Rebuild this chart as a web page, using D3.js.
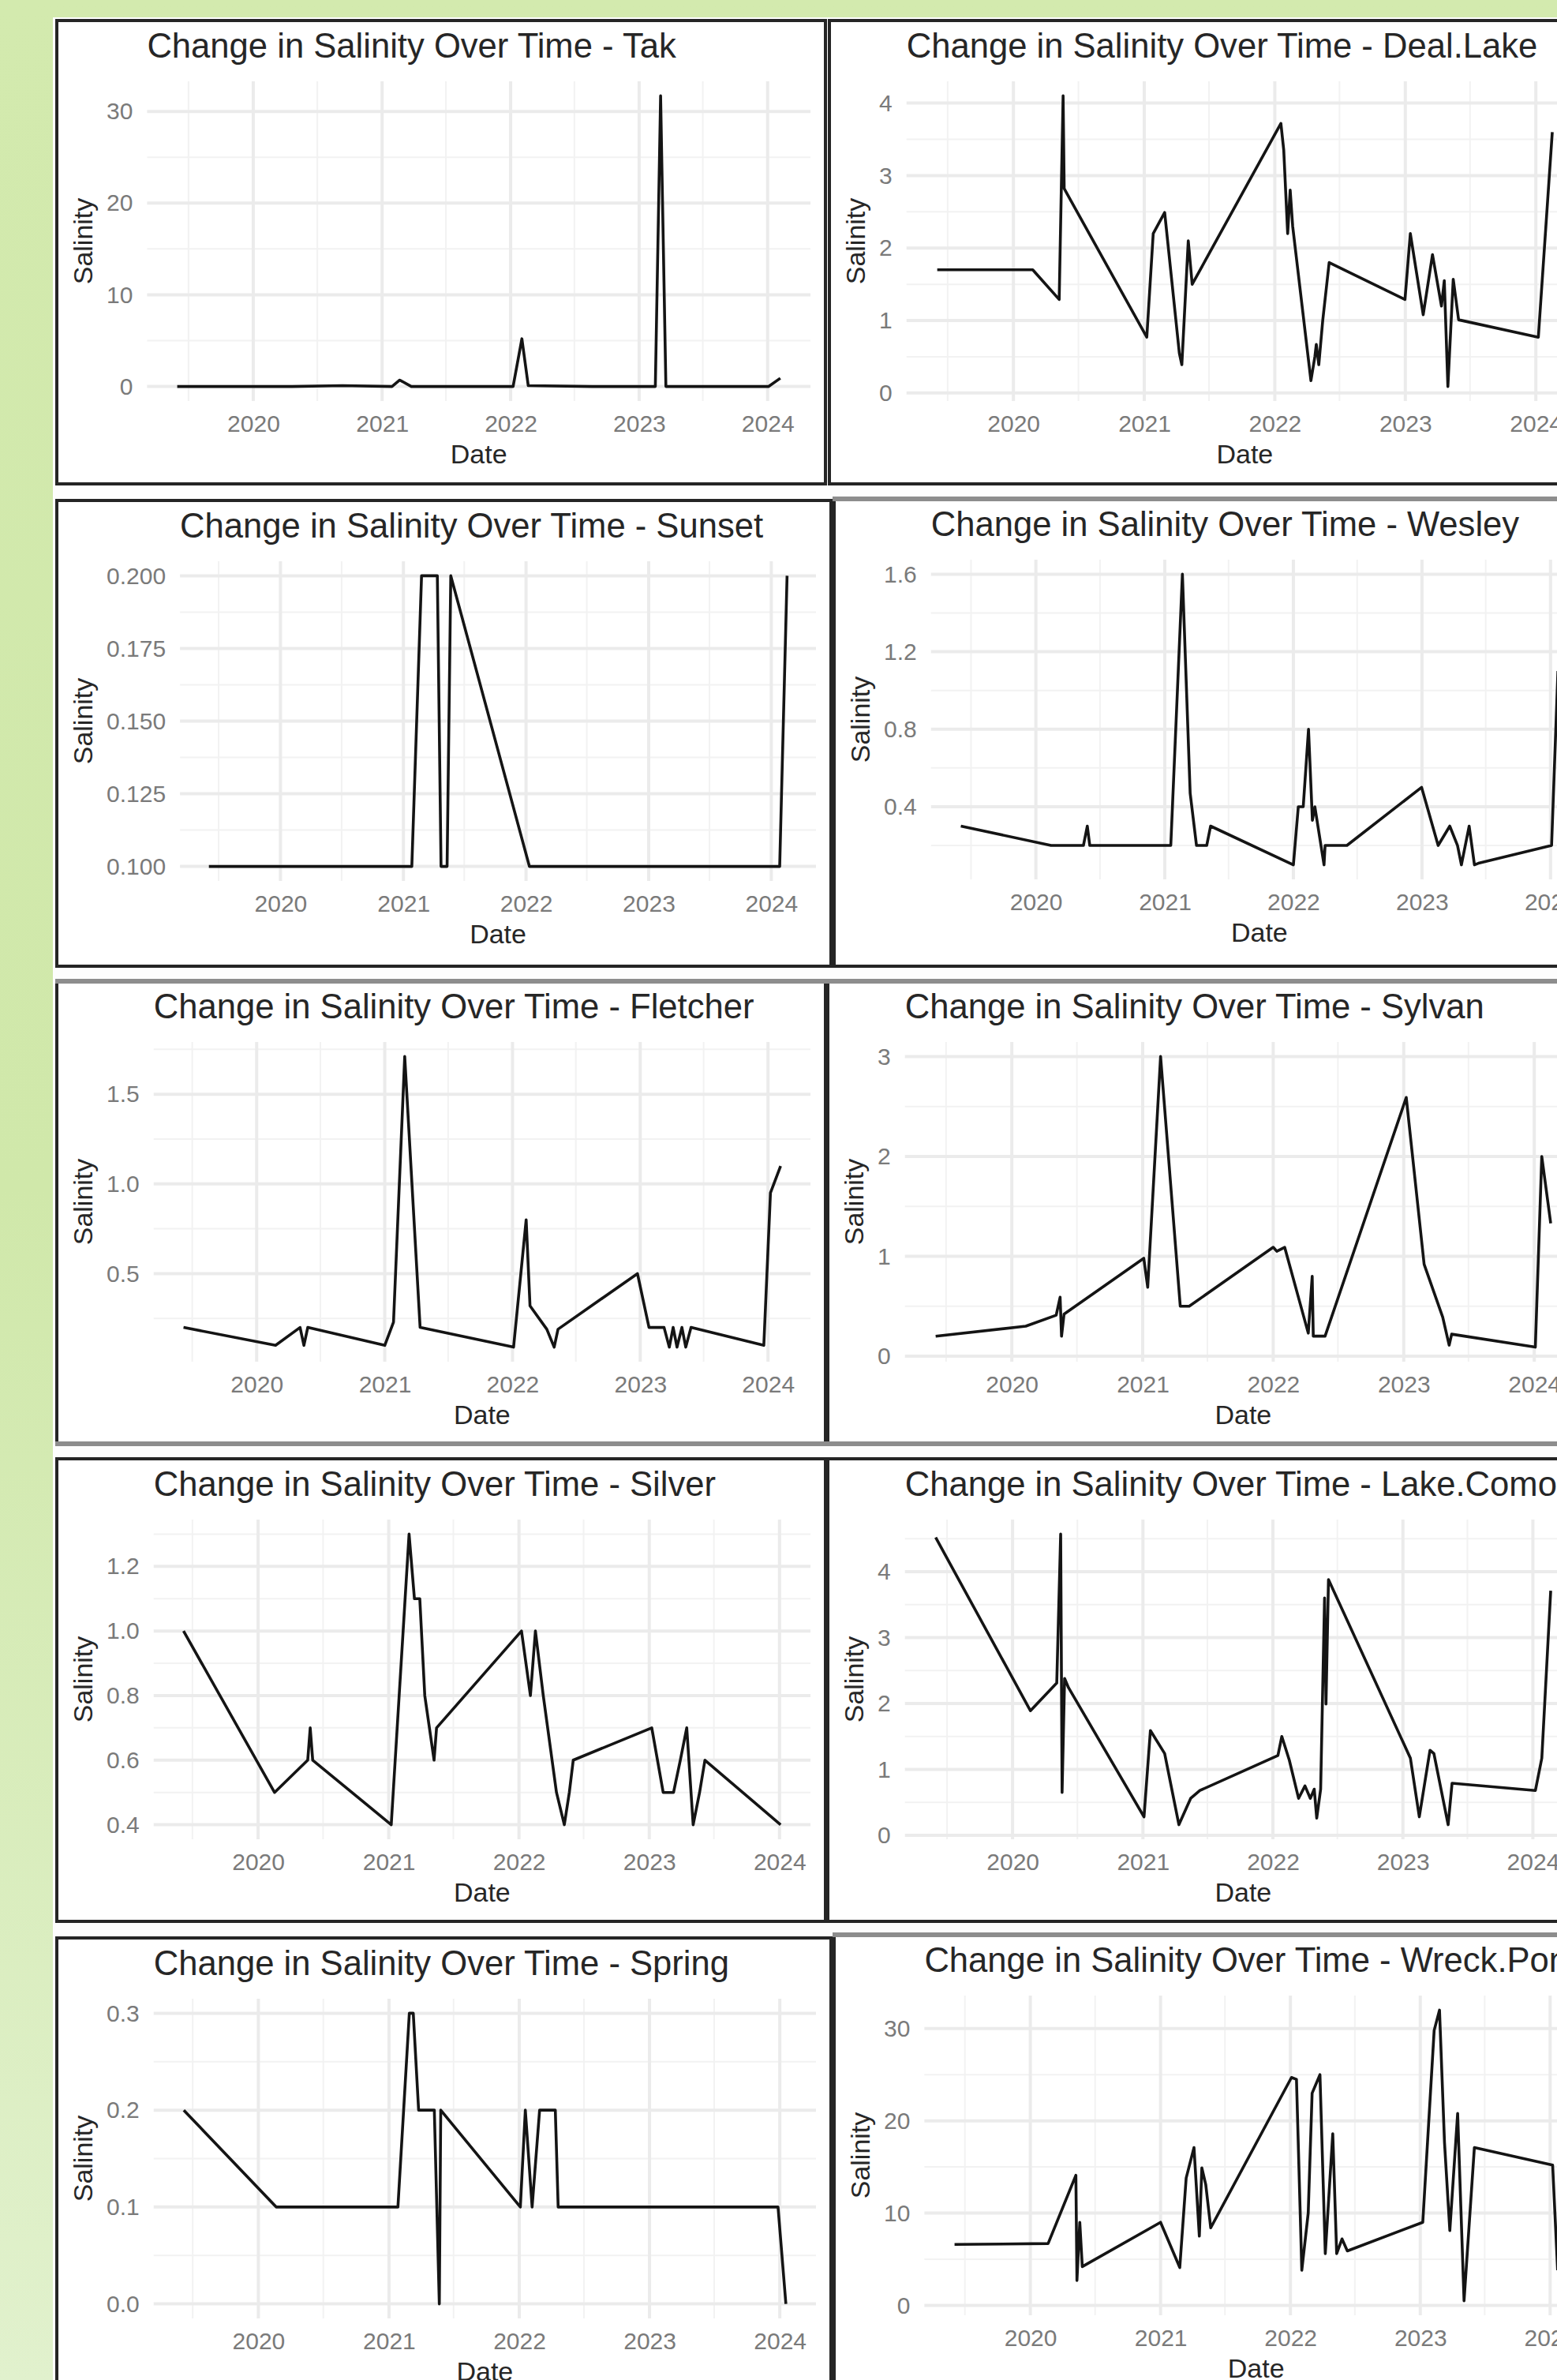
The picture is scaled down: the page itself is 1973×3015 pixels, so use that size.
<!DOCTYPE html>
<html>
<head>
<meta charset="utf-8">
<script src="https://cdnjs.cloudflare.com/ajax/libs/d3/7.8.5/d3.min.js"></script>
<style>
  html, body { margin: 0; padding: 0; }
  body { width: 1973px; height: 3015px; overflow: hidden; }
  svg { display: block; font-family: "Liberation Sans", Arial, Helvetica, sans-serif; }
</style>
</head>
<body>
<div id="chart"></div>
<script>
const sites = ["Tak", "Deal.Lake", "Sunset", "Wesley", "Fletcher", "Sylvan", "Silver", "Lake.Como", "Spring", "Wreck.Pond"];

// [date, salinity] pairs
const tak = [["2019-05-30", 0], ["2019-10-15", 0], ["2020-04-20", 0], ["2020-09-10", 0.1], ["2021-01-29", 0],
  ["2021-02-20", 0.7], ["2021-03-25", 0], ["2021-09-15", 0], ["2022-01-08", 0], ["2022-02-02", 5.2],
  ["2022-02-20", 0.1], ["2022-08-20", 0], ["2023-02-16", 0], ["2023-03-03", 31.7], ["2023-03-18", 0],
  ["2023-09-01", 0], ["2024-01-04", 0], ["2024-02-06", 0.9]];

const dealLake = [["2019-06-02", 1.7], ["2020-02-24", 1.7], ["2020-05-08", 1.29], ["2020-05-19", 4.1], ["2020-05-22", 2.82],
  ["2021-01-08", 0.77], ["2021-01-26", 2.2], ["2021-02-27", 2.49], ["2021-04-09", 0.55], ["2021-04-16", 0.39],
  ["2021-05-04", 2.1], ["2021-05-15", 1.5], ["2022-01-18", 3.72], ["2022-01-26", 3.35], ["2022-02-06", 2.2],
  ["2022-02-13", 2.8], ["2022-02-20", 2.3], ["2022-04-12", 0.17], ["2022-04-23", 0.5], ["2022-04-27", 0.67],
  ["2022-05-04", 0.39], ["2022-05-15", 1.0], ["2022-06-02", 1.8], ["2022-12-31", 1.29], ["2023-01-15", 2.2],
  ["2023-02-20", 1.08], ["2023-03-18", 1.91], ["2023-04-12", 1.2], ["2023-04-20", 1.55], ["2023-04-30", 0.09],
  ["2023-05-15", 1.57], ["2023-05-30", 1.01], ["2024-01-08", 0.77], ["2024-02-16", 3.6]];

const sunset = [["2019-06-02", 0.1], ["2019-12-01", 0.1], ["2020-07-01", 0.1], ["2021-01-26", 0.1], ["2021-02-24", 0.2],
  ["2021-04-12", 0.2], ["2021-04-23", 0.1], ["2021-05-11", 0.1], ["2021-05-22", 0.2], ["2022-01-11", 0.1],
  ["2022-09-01", 0.1], ["2023-05-01", 0.1], ["2024-01-26", 0.1], ["2024-02-17", 0.2]];

const wesley = [["2019-06-02", 0.3], ["2020-02-13", 0.2], ["2020-05-15", 0.2], ["2020-05-26", 0.3], ["2020-06-02", 0.2],
  ["2021-01-18", 0.2], ["2021-02-20", 1.6], ["2021-03-14", 0.47], ["2021-04-01", 0.2], ["2021-04-30", 0.2],
  ["2021-05-11", 0.3], ["2022-01-01", 0.1], ["2022-01-15", 0.4], ["2022-01-29", 0.4], ["2022-02-13", 0.8],
  ["2022-02-24", 0.33], ["2022-03-03", 0.4], ["2022-03-29", 0.1], ["2022-04-01", 0.2], ["2022-06-02", 0.2],
  ["2022-12-31", 0.5], ["2023-02-16", 0.2], ["2023-03-21", 0.3], ["2023-04-12", 0.2], ["2023-04-23", 0.1],
  ["2023-05-15", 0.3], ["2023-05-30", 0.1], ["2023-06-13", 0.11], ["2024-01-04", 0.2], ["2024-01-22", 1.1]];

const fletcher = [["2019-06-06", 0.2], ["2020-02-24", 0.1], ["2020-05-04", 0.2], ["2020-05-15", 0.1], ["2020-05-26", 0.2],
  ["2021-01-01", 0.1], ["2021-01-26", 0.23], ["2021-02-27", 1.71], ["2021-04-12", 0.2], ["2022-01-04", 0.09],
  ["2022-02-09", 0.8], ["2022-02-20", 0.32], ["2022-04-09", 0.19], ["2022-04-30", 0.09], ["2022-05-11", 0.19],
  ["2022-12-24", 0.5], ["2023-01-26", 0.2], ["2023-03-10", 0.2], ["2023-03-25", 0.09], ["2023-04-05", 0.2],
  ["2023-04-16", 0.09], ["2023-04-30", 0.2], ["2023-05-11", 0.09], ["2023-05-26", 0.2], ["2023-12-20", 0.1],
  ["2024-01-08", 0.95], ["2024-02-06", 1.1]];

const sylvan = [["2019-06-02", 0.2], ["2020-02-09", 0.3], ["2020-05-04", 0.41], ["2020-05-15", 0.59], ["2020-05-19", 0.2],
  ["2020-05-26", 0.42], ["2021-01-04", 0.98], ["2021-01-15", 0.69], ["2021-02-20", 3.0], ["2021-04-16", 0.5],
  ["2021-05-11", 0.5], ["2022-01-01", 1.09], ["2022-01-11", 1.05], ["2022-02-02", 1.09], ["2022-04-09", 0.23],
  ["2022-04-20", 0.8], ["2022-04-23", 0.2], ["2022-05-26", 0.2], ["2023-01-08", 2.59], ["2023-02-27", 0.92],
  ["2023-04-20", 0.39], ["2023-05-08", 0.11], ["2023-05-15", 0.22], ["2024-01-04", 0.09], ["2024-01-22", 2.0],
  ["2024-02-16", 1.33]];

const silver = [["2019-06-06", 1.0], ["2020-02-16", 0.5], ["2020-05-19", 0.6], ["2020-05-26", 0.7], ["2020-06-02", 0.6],
  ["2021-01-08", 0.4], ["2021-02-27", 1.3], ["2021-03-14", 1.1], ["2021-03-29", 1.1], ["2021-04-12", 0.8],
  ["2021-05-08", 0.6], ["2021-05-15", 0.7], ["2022-01-08", 1.0], ["2022-02-02", 0.8], ["2022-02-16", 1.0],
  ["2022-03-10", 0.8], ["2022-04-16", 0.5], ["2022-05-08", 0.4], ["2022-05-22", 0.5], ["2022-06-02", 0.6],
  ["2023-01-08", 0.7], ["2023-02-09", 0.5], ["2023-03-10", 0.5], ["2023-03-29", 0.6], ["2023-04-16", 0.7],
  ["2023-05-04", 0.4], ["2023-05-22", 0.5], ["2023-06-06", 0.6], ["2024-01-04", 0.4]];

const lakeComo = [["2019-05-30", 4.52], ["2020-02-20", 1.89], ["2020-05-04", 2.31], ["2020-05-15", 4.57], ["2020-05-19", 0.65],
  ["2020-05-26", 2.38], ["2020-06-06", 2.24], ["2021-01-04", 0.28], ["2021-01-22", 1.59], ["2021-03-03", 1.24],
  ["2021-04-12", 0.16], ["2021-05-15", 0.56], ["2021-06-10", 0.68], ["2022-01-15", 1.21], ["2022-01-26", 1.5],
  ["2022-02-16", 1.14], ["2022-03-14", 0.56], ["2022-04-01", 0.75], ["2022-04-16", 0.56], ["2022-04-27", 0.7],
  ["2022-05-04", 0.26], ["2022-05-15", 0.7], ["2022-05-26", 3.6], ["2022-05-30", 1.99], ["2022-06-06", 3.88],
  ["2023-01-22", 1.17], ["2023-02-16", 0.28], ["2023-03-18", 1.29], ["2023-03-29", 1.24], ["2023-05-08", 0.16],
  ["2023-05-19", 0.79], ["2024-01-08", 0.68], ["2024-01-26", 1.17], ["2024-02-20", 3.71]];

const spring = [["2019-06-06", 0.2], ["2020-02-20", 0.1], ["2020-09-12", 0.1], ["2021-01-26", 0.1], ["2021-02-27", 0.3],
  ["2021-03-10", 0.3], ["2021-03-25", 0.2], ["2021-05-08", 0.2], ["2021-05-22", 0.0], ["2021-05-26", 0.2],
  ["2022-01-04", 0.1], ["2022-01-18", 0.2], ["2022-02-06", 0.1], ["2022-02-27", 0.2], ["2022-04-12", 0.2],
  ["2022-04-20", 0.1], ["2023-01-01", 0.1], ["2023-12-27", 0.1], ["2024-01-18", 0.0]];

const wreckPond = [["2019-06-02", 6.6], ["2020-02-20", 6.7], ["2020-05-08", 14.1], ["2020-05-11", 2.7], ["2020-05-19", 9.0],
  ["2020-05-26", 4.2], ["2021-01-01", 9.0], ["2021-02-24", 4.1], ["2021-03-14", 13.8], ["2021-04-05", 17.1],
  ["2021-04-20", 7.5], ["2021-04-27", 14.9], ["2021-05-08", 13.1], ["2021-05-22", 8.4], ["2022-01-04", 24.7],
  ["2022-01-18", 24.5], ["2022-02-02", 3.8], ["2022-02-20", 10.0], ["2022-03-03", 23.0], ["2022-03-25", 25.0],
  ["2022-04-09", 5.6], ["2022-04-30", 18.6], ["2022-05-11", 5.6], ["2022-05-26", 7.2], ["2022-06-10", 5.9],
  ["2023-01-08", 9.0], ["2023-02-09", 29.8], ["2023-02-24", 32.0], ["2023-03-10", 17.7], ["2023-03-25", 8.1],
  ["2023-04-16", 20.8], ["2023-05-04", 0.5], ["2023-06-02", 17.1], ["2024-01-08", 15.2], ["2024-01-22", 3.8]];

const seriesList = [tak, dealLake, sunset, wesley, fletcher, sylvan, silver, lakeComo, spring, wreckPond];

const yTickLabels = [
  ["0", "10", "20", "30"],
  ["0", "1", "2", "3", "4"],
  ["0.100", "0.125", "0.150", "0.175", "0.200"],
  ["0.4", "0.8", "1.2", "1.6"],
  ["0.5", "1.0", "1.5"],
  ["0", "1", "2", "3"],
  ["0.4", "0.6", "0.8", "1.0", "1.2"],
  ["0", "1", "2", "3", "4"],
  ["0.0", "0.1", "0.2", "0.3"],
  ["0", "10", "20", "30"]
];
const xTickLabels = ["2020", "2021", "2022", "2023", "2024"];

// panel frames of the screenshot collage
const DARK = "#252525", GREY = "#8d8d8d";
const frames = [
  { x: 70, y: 24, w: 978, h: 591, top: DARK, bottom: DARK },
  { x: 1049, y: 24, w: 978, h: 591, top: DARK, bottom: DARK },
  { x: 70, y: 632, w: 985, h: 594, top: DARK, bottom: DARK },
  { x: 1055, y: 630, w: 978, h: 596, top: GREY, bottom: DARK },
  { x: 70, y: 1241, w: 978, h: 590, top: GREY, bottom: GREY },
  { x: 1047, y: 1241, w: 978, h: 590, top: GREY, bottom: GREY },
  { x: 70, y: 1846, w: 978, h: 590, top: DARK, bottom: DARK },
  { x: 1047, y: 1846, w: 978, h: 590, top: DARK, bottom: DARK },
  { x: 70, y: 2453, w: 985, h: 592, top: DARK, bottom: DARK },
  { x: 1055, y: 2449, w: 978, h: 596, top: GREY, bottom: DARK }
];

const W = 1973, H = 3015;
const parseDate = d3.timeParse("%Y-%m-%d");

const svg = d3.select("#chart").append("svg")
    .attr("width", W)
    .attr("height", H);

const grad = svg.append("defs").append("linearGradient")
    .attr("id", "bg")
    .attr("x1", 0).attr("y1", 0).attr("x2", 0).attr("y2", 1);
grad.append("stop").attr("offset", "0%").attr("stop-color", "#d3eaae");
grad.append("stop").attr("offset", "50%").attr("stop-color", "#d0e8aa");
grad.append("stop").attr("offset", "100%").attr("stop-color", "#e1f1cd");

svg.append("rect").attr("width", W).attr("height", H).attr("fill", "url(#bg)");
svg.append("rect").attr("x", 67).attr("y", 22).attr("width", W - 67).attr("height", H - 22).attr("fill", "#fdfdfd");

function drawPanel(site, raw, tickLabels, f) {
    const data = raw.map(([d, v]) => ({ date: parseDate(d), value: v }));
    const g = svg.append("g");

    g.append("rect")
        .attr("x", f.x).attr("y", f.y)
        .attr("width", f.w).attr("height", f.h)
        .attr("fill", "#fff");

    const tickValues = tickLabels.map(Number);

    // widest y tick label decides where the panel starts
    const probe = g.append("g").attr("font-size", 30);
    let maxW = 0;
    tickLabels.forEach(t => {
        maxW = Math.max(maxW, probe.append("text").text(t).node().getComputedTextLength());
    });
    probe.remove();

    const left = f.x + 65 + maxW + 18;
    const right = f.x + f.w - 21;
    const top = f.y + 79;
    const bottom = f.y + 484;

    // ggplot style 5% expansion
    const [d0, d1] = d3.extent(data, d => d.date);
    const dp = (d1 - d0) * 0.05;
    const x = d3.scaleTime()
        .domain([new Date(+d0 - dp), new Date(+d1 + dp)])
        .range([left, right]);

    const [v0, v1] = d3.extent(data, d => d.value);
    const vp = (v1 - v0) * 0.05;
    const y = d3.scaleLinear()
        .domain([v0 - vp, v1 + vp])
        .range([bottom, top]);

    const majorX = xTickLabels.map(s => parseDate(s + "-01-01"));
    const minorX = ["2019", ...xTickLabels].map(s => parseDate(s + "-07-01"))
        .filter(d => d >= x.domain()[0] && d <= x.domain()[1]);

    const step = tickValues[1] - tickValues[0];
    const minorY = d3.range(-1, tickValues.length)
        .map(k => tickValues[0] + (k + 0.5) * step)
        .filter(v => v >= y.domain()[0] && v <= y.domain()[1]);

    const grid = g.append("g").attr("fill", "none");
    grid.selectAll(".my").data(minorY).enter().append("line")
        .attr("x1", left).attr("x2", right)
        .attr("y1", d => y(d)).attr("y2", d => y(d))
        .attr("stroke", "#f2f2f2").attr("stroke-width", 2);
    grid.selectAll(".mx").data(minorX).enter().append("line")
        .attr("x1", d => x(d)).attr("x2", d => x(d))
        .attr("y1", top).attr("y2", bottom)
        .attr("stroke", "#f2f2f2").attr("stroke-width", 2);
    grid.selectAll(".gy").data(tickValues).enter().append("line")
        .attr("x1", left).attr("x2", right)
        .attr("y1", d => y(d)).attr("y2", d => y(d))
        .attr("stroke", "#ebebeb").attr("stroke-width", 4);
    grid.selectAll(".gx").data(majorX).enter().append("line")
        .attr("x1", d => x(d)).attr("x2", d => x(d))
        .attr("y1", top).attr("y2", bottom)
        .attr("stroke", "#ebebeb").attr("stroke-width", 4);

    const line = d3.line()
        .x(d => x(d.date))
        .y(d => y(d.value));

    g.append("path")
        .datum(data)
        .attr("d", line)
        .attr("fill", "none")
        .attr("stroke", "#141414")
        .attr("stroke-width", 3.6)
        .attr("stroke-linejoin", "round");

    const xAxis = g.append("g")
        .attr("transform", `translate(0,${bottom})`)
        .call(d3.axisBottom(x).tickValues(majorX).tickFormat((d, i) => xTickLabels[i]).tickSize(0).tickPadding(18));
    xAxis.select(".domain").remove();
    xAxis.attr("font-size", 30).attr("font-family", null);
    xAxis.selectAll("text").attr("fill", "#7a7a7a");

    const yAxis = g.append("g")
        .attr("transform", `translate(${left},0)`)
        .call(d3.axisLeft(y).tickValues(tickValues).tickFormat((d, i) => tickLabels[i]).tickSize(0).tickPadding(18));
    yAxis.select(".domain").remove();
    yAxis.attr("font-size", 30).attr("font-family", null);
    yAxis.selectAll("text").attr("fill", "#7a7a7a");

    g.append("text")
        .attr("x", left)
        .attr("y", f.y + 49)
        .attr("font-size", 43.6)
        .attr("fill", "#262626")
        .text(`Change in Salinity Over Time - ${site}`);

    g.append("text")
        .attr("x", (left + right) / 2)
        .attr("y", f.y + 563)
        .attr("text-anchor", "middle")
        .attr("font-size", 34)
        .attr("fill", "#262626")
        .text("Date");

    g.append("text")
        .attr("transform", `translate(${f.x + 35},${(top + bottom) / 2}) rotate(-90)`)
        .attr("dy", "0.35em")
        .attr("text-anchor", "middle")
        .attr("font-size", 34)
        .attr("fill", "#262626")
        .text("Salinity");

    // frame edges
    const edges = g.append("g").attr("fill", "none");
    edges.append("line").attr("x1", f.x + 2).attr("x2", f.x + 2).attr("y1", f.y).attr("y2", f.y + f.h)
        .attr("stroke", DARK).attr("stroke-width", 4);
    edges.append("line").attr("x1", f.x + f.w - 2).attr("x2", f.x + f.w - 2).attr("y1", f.y).attr("y2", f.y + f.h)
        .attr("stroke", DARK).attr("stroke-width", 4);
    edges.append("line").attr("x1", f.x).attr("x2", f.x + f.w).attr("y1", f.y + 2).attr("y2", f.y + 2)
        .attr("stroke", f.top).attr("stroke-width", f.top === GREY ? 6 : 4);
    edges.append("line").attr("x1", f.x).attr("x2", f.x + f.w).attr("y1", f.y + f.h - 2).attr("y2", f.y + f.h - 2)
        .attr("stroke", f.bottom).attr("stroke-width", f.bottom === GREY ? 6 : 4);
}

sites.forEach((site, i) => drawPanel(site, seriesList[i], yTickLabels[i], frames[i]));
</script>
</body>
</html>
